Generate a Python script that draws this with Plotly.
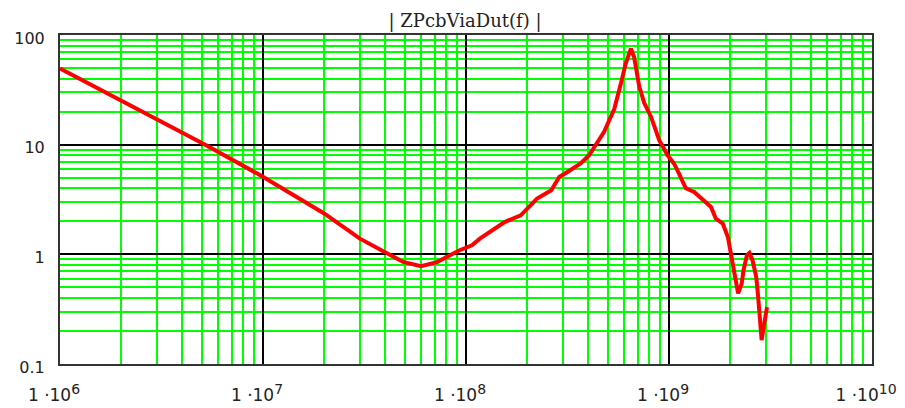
import plotly.graph_objects as go

# Data
freq_hz = [1.0e6, 2.95e6, 5.19e6, 9.7e6, 2.0e7, 3.0e7, 4.07e7, 4.9e7, 6.0e7, 7.2e7,
           9.3e7, 1.07e8, 1.17e8, 1.55e8, 1.86e8, 2.24e8, 2.63e8, 2.88e8, 3.16e8, 3.67e8,
           4.04e8, 4.37e8, 4.79e8, 5.16e8, 5.37e8, 5.79e8, 6.12e8, 6.49e8, 6.73e8, 7.13e8,
           7.55e8, 8.15e8, 8.95e8, 9.84e8, 1.06e9, 1.12e9, 1.21e9, 1.33e9, 1.47e9, 1.61e9,
           1.70e9, 1.84e9, 1.95e9, 2.02e9, 2.10e9, 2.19e9, 2.28e9, 2.33e9, 2.42e9, 2.49e9,
           2.58e9, 2.69e9, 2.74e9, 2.79e9, 2.86e9, 2.93e9, 3.04e9]
z_mag = [49.4, 17.3, 10.0, 5.26, 2.36, 1.39, 1.02, 0.853, 0.78, 0.85,
         1.09, 1.21, 1.39, 1.97, 2.27, 3.23, 3.84, 5.08, 5.64, 6.73,
         8.0, 9.9, 13.1, 17.9, 21.0, 36.0, 55.0, 75.0, 63.0, 34.0,
         24.0, 18.0, 11.0, 8.0, 6.7, 5.45, 4.0, 3.7, 3.1, 2.7,
         2.12, 1.91, 1.44, 1.02, 0.67, 0.44, 0.54, 0.72, 0.98, 1.03,
         0.88, 0.62, 0.44, 0.27, 0.165, 0.22, 0.33]

x_tick_vals = [1e6, 1e7, 1e8, 1e9, 1e10]
x_exponents = ["6", "7", "8", "9", "10"]
x_tick_text = ["1 \u00b710<sup><span style='font-size:14px'>%s</span></sup>" % e for e in x_exponents]
y_tick_vals = [0.1, 1, 10, 100]
y_tick_text = ["0.1", "1", "10", "100"]
title_text = "| ZPcbViaDut(f) |"

x_minor = [k * 10 ** n for n in range(6, 10) for k in range(2, 10)]
y_minor = [k * 10 ** n for n in range(-1, 2) for k in range(2, 10)]

fig = go.Figure()
fig.add_trace(go.Scatter(x=freq_hz, y=z_mag, mode="lines",
                         line=dict(color="#FF0000", width=4), showlegend=False))

y_font = dict(family="DejaVu Sans", size=16, color="#222222")
x_font = dict(family="DejaVu Sans", size=17, color="#222222")
fig.update_xaxes(type="log", range=[6, 10], tickmode="array", tickvals=x_tick_vals,
                 ticktext=x_tick_text, showgrid=True, gridcolor="#000000", gridwidth=1.5,
                 minor=dict(tickmode="array", tickvals=x_minor, showgrid=True,
                            gridcolor="#00FF00", gridwidth=1.5, ticks=""),
                 showline=True, linecolor="#333333", linewidth=2, mirror=True,
                 ticks="", tickfont=x_font, zeroline=False, automargin=False,
                 ticklabelstandoff=15, ticklabelshift=-6)
fig.update_yaxes(type="log", range=[-1, 2], tickmode="array", tickvals=y_tick_vals,
                 ticktext=y_tick_text, showgrid=True, gridcolor="#000000", gridwidth=1.5,
                 minor=dict(tickmode="array", tickvals=y_minor, showgrid=True,
                            gridcolor="#00FF00", gridwidth=1.5, ticks=""),
                 showline=True, linecolor="#333333", linewidth=2, mirror=True,
                 ticks="", tickfont=y_font, zeroline=False, automargin=False,
                 ticklabelstandoff=10, ticklabelshift=3)

fig.update_layout(width=897, height=400,
                  margin=dict(l=52, r=33, t=27, b=44),
                  paper_bgcolor="white", plot_bgcolor="white",
                  title=dict(text=title_text, x=0.5095, xanchor="center", y=0.968, yanchor="middle",
                             yref="container",
                             font=dict(family="DejaVu Serif", size=18, color="#222222")))
fig.write_html("out.html")
